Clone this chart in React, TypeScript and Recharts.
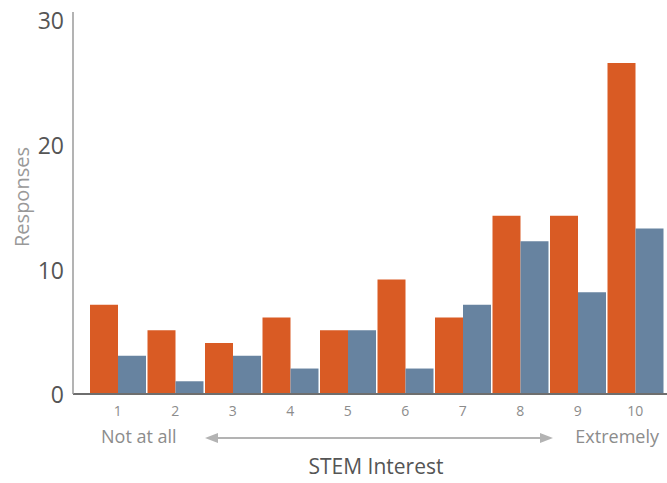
import { Bar, BarChart, Customized, XAxis, YAxis } from "recharts";

const categories = ["1", "2", "3", "4", "5", "6", "7", "8", "9", "10"];
const seriesA = [7, 5, 4, 6, 5, 9, 6, 14, 14, 26];
const seriesB = [3, 1, 3, 2, 5, 2, 7, 12, 8, 13];
const yTicks = [0, 10, 20, 30];

const data = categories.map((c, i) => ({ name: c, a: seriesA[i], b: seriesB[i] }));

const FONT = "'Open Sans', 'Noto Sans', sans-serif";

// the source labels drift a little below their gridline as they go up
const YTick = (props: any) => {
  const { x, y, payload } = props;
  const shift = 3 + payload.value * 0.27;
  return (
    <text
      x={x + 3}
      y={y + shift}
      fill="#555"
      fontSize={23}
      fontFamily={FONT}
      textAnchor="end"
      dominantBaseline="middle"
    >
      {payload.value}
    </text>
  );
};

const Annotations = () => (
  <g fontFamily={FONT}>
    <text
      x={24}
      y={197}
      transform="rotate(-90 24 197)"
      fill="#999"
      fontSize={20}
      textAnchor="middle"
      dominantBaseline="middle"
    >
      Responses
    </text>
    <text x={101} y={438} fill="#8c8c8c" fontSize={18} dominantBaseline="middle">
      Not at all
    </text>
    <line x1={214} y1={438} x2={544} y2={438} stroke="#b3b3b3" strokeWidth={2} />
    <polygon points="205,438 218,433 218,443" fill="#b3b3b3" />
    <polygon points="553,438 540,433 540,443" fill="#b3b3b3" />
    <text x={659} y={438} fill="#8c8c8c" fontSize={18} textAnchor="end" dominantBaseline="middle">
      Extremely
    </text>
    <text x={376} y={468} fill="#555" fontSize={21} textAnchor="middle" dominantBaseline="middle">
      STEM Interest
    </text>
  </g>
);

const App = () => {
  return (
    <div style={{ position: "absolute", left: 0, top: 0 }}>
      <BarChart
        width={667}
        height={483}
        data={data}
        margin={{ top: 12, right: 0, bottom: 0, left: 0 }}
        barCategoryGap={1}
        barGap={0}
      >
        <XAxis
          dataKey="name"
          height={89}
          padding={{ left: 16, right: 3 }}
          tickLine={false}
          axisLine={{ stroke: "#6e6e6e", strokeWidth: 2 }}
          tick={{ fill: "#8c8c8c", fontSize: 14, fontFamily: FONT }}
          tickMargin={6}
          interval={0}
        />
        <YAxis
          width={73}
          domain={[0, 30]}
          ticks={yTicks}
          tickLine={false}
          axisLine={{ stroke: "#9a9a9a", strokeWidth: 1.5 }}
          tick={<YTick />}
          tickMargin={6}
        />
        <Bar dataKey="a" fill="#d95b24" isAnimationActive={false} />
        <Bar dataKey="b" fill="#6783a0" isAnimationActive={false} />
        <Customized component={Annotations} />
      </BarChart>
    </div>
  );
};

export default App;
